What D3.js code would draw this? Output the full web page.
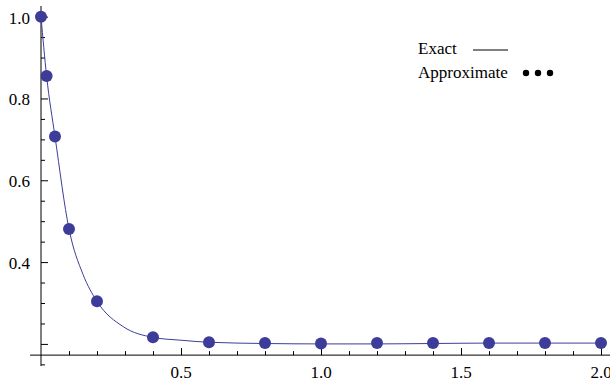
<!DOCTYPE html>
<html lang="en">
<head>
<meta charset="UTF-8">
<title>Exact vs Approximate</title>
<script src="https://cdn.jsdelivr.net/npm/d3@7"></script>
<style>
  body { margin: 0; background: #fff; }
  text { font-family: "Liberation Serif", "Times New Roman", serif; font-size: 17px; fill: #000; }
</style>
</head>
<body>
<script>
    var width = 610, height = 381;

    // approximate solution (dots)
    var approxX = [0, 0.02, 0.05, 0.1, 0.2, 0.4, 0.6, 0.8, 1.0, 1.2, 1.4, 1.6, 1.8, 2.0];
    var approxY = [1.0, 0.855, 0.707, 0.481, 0.304, 0.216, 0.204, 0.202, 0.201, 0.202, 0.202, 0.202, 0.202, 0.202];

    // exact solution
    var exactX = [0, 0.02, 0.05, 0.1, 0.15, 0.2, 0.294, 0.4, 0.5, 0.6, 0.8, 1.0, 1.2, 1.4, 1.6, 2.0];
    var exactY = [1.0, 0.855, 0.707, 0.481, 0.37, 0.304, 0.242, 0.216, 0.209, 0.204, 0.201, 0.2, 0.2, 0.201, 0.202, 0.202];

    var xMajor = [0.5, 1.0, 1.5, 2.0];
    var xMinor = [0.1, 0.2, 0.3, 0.4, 0.6, 0.7, 0.8, 0.9, 1.1, 1.2, 1.3, 1.4, 1.6, 1.7, 1.8, 1.9];
    var yMajor = [0.2, 0.4, 0.6, 0.8, 1.0];
    var yMinor = [0.15, 0.25, 0.3, 0.35, 0.45, 0.5, 0.55, 0.65, 0.7, 0.75, 0.85, 0.9, 0.95];
    var yLabels = [0.4, 0.6, 0.8, 1.0];

    var legendNames = ["Exact", "Approximate"];

    var color = "rgb(61,61,153)";

    var svg = d3.select("body")
                .append("svg")
                .attr("width", width)
                .attr("height", height);

    var x = d3.scaleLinear().domain([0, 2]).range([41, 601]);
    var y = d3.scaleLinear().domain([0.146, 1.026]).range([366, 6]);

    var xAxisAt = 0.1726;  // where the horizontal axis crosses

    // axis lines
    svg.append("line")
        .attr("x1", x(-0.039)).attr("x2", width)
        .attr("y1", y(xAxisAt)).attr("y2", y(xAxisAt))
        .attr("stroke", "#000").attr("stroke-width", 1);
    svg.append("line")
        .attr("x1", x(0)).attr("x2", x(0))
        .attr("y1", y(1.026)).attr("y2", y(0.146))
        .attr("stroke", "#000").attr("stroke-width", 1);

    // ticks (no labels, no domain path)
    function tickGroup(axis, transform) {
        var g = svg.append("g").attr("transform", transform).call(axis);
        g.select(".domain").remove();
        g.selectAll(".tick line").attr("stroke", "#000");
        return g;
    }
    tickGroup(d3.axisTop(x).tickValues(xMinor).tickSize(4).tickFormat(""), "translate(0," + y(xAxisAt) + ")");
    tickGroup(d3.axisTop(x).tickValues(xMajor).tickSize(7).tickFormat(""), "translate(0," + y(xAxisAt) + ")");
    tickGroup(d3.axisRight(y).tickValues(yMinor).tickSize(4).tickFormat(""), "translate(" + x(0) + ",0)");
    tickGroup(d3.axisRight(y).tickValues(yMajor).tickSize(7).tickFormat(""), "translate(" + x(0) + ",0)");

    // tick labels
    svg.selectAll(".xlab")
        .data(xMajor)
        .enter()
        .append("text")
        .attr("class", "xlab")
        .attr("x", function (d) { return x(d); })
        .attr("y", 378)
        .attr("text-anchor", "middle")
        .text(function (d) { return d3.format(".1f")(d); });

    svg.selectAll(".ylab")
        .data(yLabels)
        .enter()
        .append("text")
        .attr("class", "ylab")
        .attr("x", 30)
        .attr("y", function (d) { return y(d) + 7; })
        .attr("text-anchor", "end")
        .text(function (d) { return d3.format(".1f")(d); });

    // exact curve
    var line = d3.line()
        .x(function (d, i) { return x(exactX[i]); })
        .y(function (d, i) { return y(exactY[i]); })
        .curve(d3.curveMonotoneX);

    svg.append("path")
        .datum(exactX)
        .attr("d", line)
        .attr("fill", "none")
        .attr("stroke", color)
        .attr("stroke-width", 1);

    // approximate points
    svg.selectAll(".pt")
        .data(approxX)
        .enter()
        .append("circle")
        .attr("class", "pt")
        .attr("cx", function (d) { return x(d); })
        .attr("cy", function (d, i) { return y(approxY[i]); })
        .attr("r", 6)
        .attr("fill", color);

    // legend
    var legend = svg.append("g");
    legend.selectAll("text")
        .data(legendNames)
        .enter()
        .append("text")
        .attr("x", 418)
        .attr("y", function (d, i) { return 54 + i * 24; })
        .text(function (d) { return d; });

    legend.append("line")
        .attr("x1", 473).attr("x2", 508)
        .attr("y1", 50).attr("y2", 50)
        .attr("stroke", "#000").attr("stroke-width", 1);

    legend.selectAll("circle")
        .data([0, 1, 2])
        .enter()
        .append("circle")
        .attr("cx", function (d) { return 526 + d * 12; })
        .attr("cy", 73)
        .attr("r", 3.2)
        .attr("fill", "#000");
</script>
</body>
</html>
